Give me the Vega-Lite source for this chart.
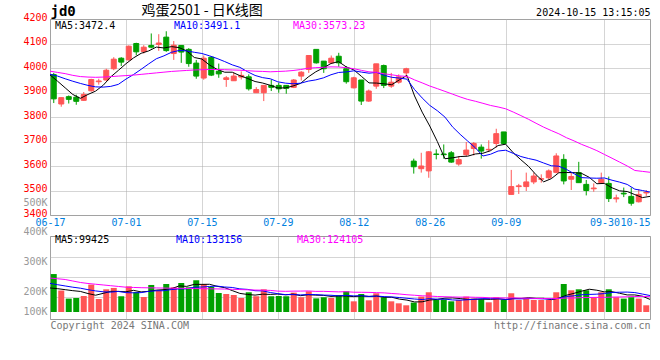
{
"$schema": "https://vega.github.io/schema/vega-lite/v6.json",
"background": "white",
"padding": {"left": 22, "top": 2, "right": 8, "bottom": 0},
"bounds": "flush",
"spacing": 21,
"datasets": {"k": [
{"d":"06-17","o":3973,"h":3980,"l":3857,"c":3874,"v":306000,"ma5":3972,"ma10":3974,"ma30":3987,"vma5":194000,"vma10":231000,"vma30":274000},
{"d":"06-18","o":3853,"h":3880,"l":3842,"c":3879,"v":173000,"ma5":3946,"ma10":3967,"ma30":3982,"vma5":188000,"vma10":220000,"vma30":268000},
{"d":"06-19","o":3883,"h":3888,"l":3855,"c":3872,"v":108000,"ma5":3919,"ma10":3956,"ma30":3977,"vma5":180000,"vma10":210000,"vma30":262000},
{"d":"06-20","o":3881,"h":3891,"l":3850,"c":3864,"v":113000,"ma5":3892,"ma10":3946,"ma30":3970,"vma5":172000,"vma10":200000,"vma30":250000},
{"d":"06-21","o":3868,"h":3902,"l":3866,"c":3892,"v":129000,"ma5":3876.2,"ma10":3937,"ma30":3965,"vma5":165800,"vma10":192000,"vma30":238000},
{"d":"06-24","o":3907,"h":3956,"l":3904,"c":3953,"v":221000,"ma5":3892,"ma10":3929,"ma30":3963,"vma5":148800,"vma10":180000,"vma30":230000},
{"d":"06-25","o":3944,"h":3956,"l":3932,"c":3947,"v":105000,"ma5":3905.6,"ma10":3923,"ma30":3962,"vma5":135200,"vma10":170000,"vma30":224000},
{"d":"06-26","o":3951,"h":3997,"l":3948,"c":3991,"v":183000,"ma5":3929.4,"ma10":3922,"ma30":3963,"vma5":150200,"vma10":163000,"vma30":218000},
{"d":"06-27","o":3997,"h":4044,"l":3991,"c":4036,"v":194000,"ma5":3963.8,"ma10":3925,"ma30":3965,"vma5":166400,"vma10":160000,"vma30":212000},
{"d":"06-28","o":4040,"h":4044,"l":4008,"c":4024,"v":127000,"ma5":3990.2,"ma10":3933.2,"ma30":3967,"vma5":166000,"vma10":165900,"vma30":206000},
{"d":"07-01","o":4033,"h":4092,"l":4031,"c":4089,"v":207000,"ma5":4017.4,"ma10":3954.7,"ma30":3969,"vma5":163200,"vma10":156000,"vma30":200000},
{"d":"07-02","o":4100,"h":4103,"l":4052,"c":4066,"v":161000,"ma5":4041.2,"ma10":3973.4,"ma30":3971,"vma5":174400,"vma10":154800,"vma30":198000},
{"d":"07-03","o":4067,"h":4093,"l":4059,"c":4085,"v":121000,"ma5":4060,"ma10":3994.7,"ma30":3974,"vma5":162000,"vma10":156100,"vma30":196000},
{"d":"07-04","o":4092,"h":4141,"l":4080,"c":4085,"v":218000,"ma5":4069.8,"ma10":4016.8,"ma30":3977,"vma5":166800,"vma10":166600,"vma30":195000},
{"d":"07-05","o":4096,"h":4138,"l":4070,"c":4102,"v":175000,"ma5":4085.4,"ma10":4037.8,"ma30":3980,"vma5":176400,"vma10":171200,"vma30":194000},
{"d":"07-08","o":4126,"h":4150,"l":4066,"c":4071,"v":226000,"ma5":4081.8,"ma10":4049.6,"ma30":3983,"vma5":180200,"vma10":171700,"vma30":193000},
{"d":"07-09","o":4059,"h":4110,"l":4033,"c":4093,"v":199000,"ma5":4087.2,"ma10":4064.2,"ma30":3986,"vma5":187800,"vma10":181100,"vma30":192000},
{"d":"07-10","o":4092,"h":4092,"l":4021,"c":4065,"v":234000,"ma5":4083.2,"ma10":4071.6,"ma30":3988,"vma5":210400,"vma10":186200,"vma30":191000},
{"d":"07-11","o":4076,"h":4081,"l":4005,"c":4018,"v":199000,"ma5":4069.8,"ma10":4069.8,"ma30":3990,"vma5":206600,"vma10":186700,"vma30":190000},
{"d":"07-12","o":4020,"h":4033,"l":3956,"c":3967,"v":256000,"ma5":4042.8,"ma10":4064.1,"ma30":3992,"vma5":222800,"vma10":199600,"vma30":189000},
{"d":"07-15","o":3959,"h":4051,"l":3952,"c":4040,"v":226000,"ma5":4036.6,"ma10":4059.2,"ma30":3993,"vma5":222800,"vma10":201500,"vma30":188000},
{"d":"07-16","o":4044,"h":4048,"l":3967,"c":3971,"v":202000,"ma5":4012.2,"ma10":4049.7,"ma30":3994,"vma5":223400,"vma10":205600,"vma30":187000},
{"d":"07-17","o":3987,"h":4018,"l":3960,"c":3976,"v":153000,"ma5":3994.4,"ma10":4038.8,"ma30":3994,"vma5":207200,"vma10":208800,"vma30":186000},
{"d":"07-18","o":3953,"h":3967,"l":3923,"c":3960,"v":145000,"ma5":3982.8,"ma10":4026.3,"ma30":3993,"vma5":196400,"vma10":201500,"vma30":185000},
{"d":"07-19","o":3948,"h":3982,"l":3948,"c":3967,"v":137000,"ma5":3982.8,"ma10":4012.8,"ma30":3992,"vma5":172600,"vma10":197700,"vma30":183000},
{"d":"07-22","o":3963,"h":3986,"l":3953,"c":3970,"v":113000,"ma5":3968.8,"ma10":4002.7,"ma30":3991,"vma5":150000,"vma10":186400,"vma30":181000},
{"d":"07-23","o":3964,"h":3974,"l":3908,"c":3915,"v":159000,"ma5":3957.6,"ma10":3984.9,"ma30":3989,"vma5":141400,"vma10":182400,"vma30":179000},
{"d":"07-24","o":3899,"h":3922,"l":3899,"c":3912,"v":127000,"ma5":3944.8,"ma10":3969.6,"ma30":3987,"vma5":136200,"vma10":171700,"vma30":177000},
{"d":"07-25","o":3899,"h":3929,"l":3865,"c":3929,"v":183000,"ma5":3938.6,"ma10":3960.7,"ma30":3986,"vma5":143800,"vma10":170100,"vma30":176000},
{"d":"07-26","o":3929,"h":3953,"l":3906,"c":3921,"v":127000,"ma5":3929.4,"ma10":3956.1,"ma30":3984.5,"vma5":141800,"vma10":157200,"vma30":174200},
{"d":"07-29","o":3929,"h":3940,"l":3899,"c":3915,"v":129000,"ma5":3918.4,"ma10":3943.6,"ma30":3985.8,"vma5":145000,"vma10":147500,"vma30":168300},
{"d":"07-30","o":3929,"h":3929,"l":3895,"c":3917,"v":127000,"ma5":3918.8,"ma10":3938.2,"ma30":3987.1,"vma5":138600,"vma10":140000,"vma30":166800},
{"d":"07-31","o":3921,"h":3955,"l":3918,"c":3951,"v":156000,"ma5":3926.6,"ma10":3935.7,"ma30":3989.7,"vma5":144400,"vma10":140300,"vma30":168400},
{"d":"08-01","o":3967,"h":3987,"l":3949,"c":3983,"v":119000,"ma5":3937.4,"ma10":3938,"ma30":3993.7,"vma5":131600,"vma10":137700,"vma30":168600},
{"d":"08-02","o":3994,"h":4051,"l":3980,"c":4051,"v":167000,"ma5":3963.4,"ma10":3946.4,"ma30":3999,"vma5":139600,"vma10":140700,"vma30":169900},
{"d":"08-05","o":4076,"h":4076,"l":4018,"c":4021,"v":110000,"ma5":3984.6,"ma10":3951.5,"ma30":4001.3,"vma5":135800,"vma10":140400,"vma30":166200},
{"d":"08-06","o":4028,"h":4028,"l":3980,"c":3997,"v":119000,"ma5":4000.6,"ma10":3959.7,"ma30":4002.9,"vma5":134200,"vma10":136400,"vma30":166600},
{"d":"08-07","o":4021,"h":4051,"l":4017,"c":4040,"v":113000,"ma5":4018.4,"ma10":3972.5,"ma30":4004.6,"vma5":125600,"vma10":135000,"vma30":164300},
{"d":"08-08","o":4048,"h":4062,"l":4005,"c":4021,"v":135000,"ma5":4026,"ma10":3981.7,"ma30":4004.1,"vma5":128800,"vma10":130200,"vma30":162300},
{"d":"08-09","o":3997,"h":4008,"l":3936,"c":3944,"v":167000,"ma5":4004.6,"ma10":3984,"ma30":4001.4,"vma5":128800,"vma10":134200,"vma30":163700},
{"d":"08-12","o":3919,"h":3964,"l":3917,"c":3960,"v":86000,"ma5":3992.4,"ma10":3988.5,"ma30":3997.1,"vma5":124000,"vma10":129900,"vma30":159600},
{"d":"08-13","o":3951,"h":3951,"l":3849,"c":3865,"v":145000,"ma5":3966,"ma10":3983.3,"ma30":3990.4,"vma5":129200,"vma10":131700,"vma30":159100},
{"d":"08-14","o":3865,"h":3912,"l":3862,"c":3906,"v":94000,"ma5":3939.2,"ma10":3978.8,"ma30":3984.4,"vma5":125400,"vma10":125500,"vma30":158200},
{"d":"08-15","o":3926,"h":4017,"l":3915,"c":4017,"v":151000,"ma5":3938.4,"ma10":3982.2,"ma30":3982.2,"vma5":128600,"vma10":128700,"vma30":156000},
{"d":"08-16","o":4010,"h":4014,"l":3918,"c":3929,"v":119000,"ma5":3935.4,"ma10":3970,"ma30":3976.4,"vma5":119000,"vma10":123900,"vma30":154100},
{"d":"08-19","o":3926,"h":3980,"l":3919,"c":3942,"v":86000,"ma5":3931.8,"ma10":3962.1,"ma30":3972.1,"vma5":119000,"vma10":121500,"vma30":149400},
{"d":"08-20","o":3942,"h":3974,"l":3936,"c":3964,"v":70000,"ma5":3951.6,"ma10":3958.8,"ma30":3967.8,"vma5":104000,"vma10":116600,"vma30":145100},
{"d":"08-21","o":3980,"h":4001,"l":3960,"c":3997,"v":54000,"ma5":3969.8,"ma10":3954.5,"ma30":3965.5,"vma5":96000,"vma10":110700,"vma30":139100},
{"d":"08-22","o":3620,"h":3630,"l":3569,"c":3597,"v":76000,"ma5":3885.8,"ma10":3912.1,"ma30":3951.5,"vma5":81000,"vma10":104800,"vma30":135000},
{"d":"08-23","o":3589,"h":3654,"l":3573,"c":3600,"v":124000,"ma5":3820,"ma10":3877.7,"ma30":3939.3,"vma5":82000,"vma10":100500,"vma30":130600},
{"d":"08-26","o":3580,"h":3661,"l":3552,"c":3658,"v":159000,"ma5":3763.2,"ma10":3847.5,"ma30":3926.5,"vma5":96600,"vma10":107800,"vma30":128400},
{"d":"08-27","o":3649,"h":3668,"l":3627,"c":3647,"v":97000,"ma5":3699.8,"ma10":3825.7,"ma30":3915.7,"vma5":102000,"vma10":103000,"vma30":124900},
{"d":"08-28","o":3649,"h":3688,"l":3630,"c":3646,"v":102000,"ma5":3629.6,"ma10":3799.7,"ma30":3904.7,"vma5":111600,"vma10":103800,"vma30":123200},
{"d":"08-29","o":3654,"h":3661,"l":3613,"c":3616,"v":86000,"ma5":3633.4,"ma10":3759.6,"ma30":3893.3,"vma5":113600,"vma10":97300,"vma30":121200},
{"d":"08-30","o":3608,"h":3640,"l":3601,"c":3626,"v":97000,"ma5":3638.6,"ma10":3729.3,"ma30":3881.9,"vma5":108200,"vma10":95100,"vma30":119900},
{"d":"09-02","o":3646,"h":3698,"l":3640,"c":3665,"v":124000,"ma5":3640,"ma10":3701.6,"ma30":3871.7,"vma5":101200,"vma10":98900,"vma30":120300},
{"d":"09-03","o":3671,"h":3698,"l":3643,"c":3692,"v":108000,"ma5":3649,"ma10":3674.4,"ma30":3864.3,"vma5":103400,"vma10":102700,"vma30":118600},
{"d":"09-04","o":3677,"h":3688,"l":3630,"c":3661,"v":102000,"ma5":3652,"ma10":3640.8,"ma30":3855.9,"vma5":103400,"vma10":107500,"vma30":117700},
{"d":"09-05","o":3666,"h":3705,"l":3657,"c":3668,"v":78000,"ma5":3662.4,"ma10":3647.9,"ma30":3847.2,"vma5":101800,"vma10":107700,"vma30":114200},
{"d":"09-06","o":3692,"h":3752,"l":3675,"c":3732,"v":119000,"ma5":3683.6,"ma10":3661.1,"ma30":3840.9,"vma5":106200,"vma10":107200,"vma30":114000},
{"d":"09-09","o":3739,"h":3739,"l":3688,"c":3692,"v":97000,"ma5":3689,"ma10":3664.5,"ma30":3833.5,"vma5":100800,"vma10":101000,"vma30":112900},
{"d":"09-10","o":3484,"h":3584,"l":3484,"c":3516,"v":151000,"ma5":3653.8,"ma10":3651.4,"ma30":3820.1,"vma5":109400,"vma10":106400,"vma30":113700},
{"d":"09-11","o":3516,"h":3527,"l":3486,"c":3519,"v":97000,"ma5":3625.4,"ma10":3638.7,"ma30":3805.7,"vma5":108400,"vma10":105900,"vma30":111700},
{"d":"09-12","o":3516,"h":3573,"l":3498,"c":3535,"v":110000,"ma5":3598.8,"ma10":3630.6,"ma30":3790.8,"vma5":114800,"vma10":108300,"vma30":111400},
{"d":"09-13","o":3535,"h":3573,"l":3526,"c":3559,"v":97000,"ma5":3564.2,"ma10":3623.9,"ma30":3774.4,"vma5":110400,"vma10":108300,"vma30":109100},
{"d":"09-18","o":3546,"h":3566,"l":3532,"c":3548,"v":97000,"ma5":3535.4,"ma10":3612.2,"ma30":3758.6,"vma5":110400,"vma10":105600,"vma30":108700},
{"d":"09-19","o":3552,"h":3586,"l":3546,"c":3580,"v":97000,"ma5":3548.2,"ma10":3601,"ma30":3744.7,"vma5":99600,"vma10":104500,"vma30":107900},
{"d":"09-20","o":3574,"h":3652,"l":3570,"c":3641,"v":159000,"ma5":3572.6,"ma10":3599,"ma30":3731.4,"vma5":112000,"vma10":110200,"vma30":109500},
{"d":"09-23","o":3627,"h":3648,"l":3525,"c":3539,"v":226000,"ma5":3573.4,"ma10":3586.1,"ma30":3715.4,"vma5":135200,"vma10":125000,"vma30":112500},
{"d":"09-24","o":3546,"h":3573,"l":3502,"c":3557,"v":175000,"ma5":3573,"ma10":3568.6,"ma30":3702.5,"vma5":150800,"vma10":130600,"vma30":112800},
{"d":"09-25","o":3573,"h":3617,"l":3532,"c":3532,"v":183000,"ma5":3569.8,"ma10":3552.6,"ma30":3688.2,"vma5":168000,"vma10":139200,"vma30":116000},
{"d":"09-26","o":3525,"h":3543,"l":3480,"c":3500,"v":175000,"ma5":3553.8,"ma10":3551,"ma30":3676,"vma5":183600,"vma10":141600,"vma30":117000},
{"d":"09-27","o":3507,"h":3529,"l":3495,"c":3510,"v":119000,"ma5":3527.6,"ma10":3550.1,"ma30":3662.8,"vma5":175600,"vma10":143800,"vma30":117800},
{"d":"09-30","o":3532,"h":3573,"l":3532,"c":3546,"v":159000,"ma5":3529,"ma10":3551.2,"ma30":3647.1,"vma5":162200,"vma10":148700,"vma30":118100},
{"d":"10-08","o":3529,"h":3557,"l":3453,"c":3467,"v":183000,"ma5":3511,"ma10":3542,"ma30":3631.7,"vma5":163800,"vma10":157300,"vma30":120200},
{"d":"10-09","o":3466,"h":3483,"l":3451,"c":3470,"v":119000,"ma5":3498.6,"ma10":3534.2,"ma30":3616,"vma5":151000,"vma10":159500,"vma30":121300},
{"d":"10-10","o":3489,"h":3512,"l":3473,"c":3486,"v":108000,"ma5":3495.8,"ma10":3524.8,"ma30":3600.1,"vma5":137600,"vma10":160600,"vma30":122600},
{"d":"10-11","o":3476,"h":3512,"l":3438,"c":3448,"v":119000,"ma5":3483.4,"ma10":3505.5,"ma30":3581.8,"vma5":137600,"vma10":156600,"vma30":124800},
{"d":"10-14","o":3454,"h":3505,"l":3451,"c":3484,"v":108000,"ma5":3471,"ma10":3500,"ma30":3578,"vma5":127400,"vma10":144800,"vma30":125800},
{"d":"10-15","o":3490,"h":3502,"l":3478,"c":3492,"v":54000,"ma5":3476,"ma10":3493.5,"ma30":3574.4,"vma5":101600,"vma10":132700,"vma30":123500}
]},
"resolve": {"scale": {"color": "independent"}, "legend": {"color": "independent"}},
"vconcat": [
{
 "width": 600, "height": 196,
 "data": {"name": "k"},
 "layer": [
  {
   "mark": {"type": "rule", "strokeWidth": 1},
   "encoding": {
    "x": {"field": "d", "type": "ordinal", "scale": {"type": "band", "paddingInner": 0, "paddingOuter": 0},
          "axis": {"orient": "top", "labels": false, "ticks": false, "domain": false, "grid": false,
                   "title": "鸡蛋2501 - 日K线图", "titleX": 91, "titleY": -9, "titleAlign": "left", "titleBaseline": "middle",
                   "titleFont": "Noto Sans CJK SC", "titleFontSize": 14, "titleFontWeight": "normal", "titleColor": "#000000"}},
    "y": {"field": "l", "type": "quantitative", "scale": {"domain": [3400, 4200], "nice": false, "zero": false},
          "axis": {"orient": "left", "values": [3400, 3500, 3600, 3700, 3800, 3900, 4000, 4100, 4200], "format": "d",
                   "labelColor": "#ff0000", "labelPadding": 3, "labelOffset": -2, "grid": true,
                   "title": "jd0", "titleAngle": 0, "titleX": 0, "titleY": -8, "titleAlign": "left", "titleBaseline": "middle",
                   "titleFontSize": 14, "titleFontWeight": "bold", "titleColor": "#000000"}},
    "y2": {"field": "h"},
    "color": {"condition": {"test": "datum.c >= datum.o", "value": "#ff5555"}, "value": "#00a000"}
   }
  },
  {
   "mark": {"type": "bar", "size": 5, "strokeWidth": 1},
   "encoding": {
    "x": {"field": "d", "type": "ordinal", "scale": {"type": "band", "paddingInner": 0, "paddingOuter": 0}, "axis": null},
    "y": {"field": "o", "type": "quantitative", "scale": {"domain": [3400, 4200], "nice": false, "zero": false}, "axis": null},
    "y2": {"field": "c"},
    "fill": {"condition": {"test": "datum.c >= datum.o", "value": "#ff5555"}, "value": "#00a000"},
    "stroke": {"condition": {"test": "datum.c >= datum.o", "value": "#ff5555"}, "value": "#00a000"}
   }
  },
  {
   "transform": [{"fold": ["ma5", "ma10", "ma30"], "as": ["s", "val"]}],
   "mark": {"type": "line", "strokeWidth": 1},
   "encoding": {
    "x": {"field": "d", "type": "ordinal", "scale": {"type": "point", "padding": 0},
          "axis": {"orient": "bottom", "values": ["06-17", "07-01", "07-15", "07-29", "08-12", "08-26", "09-09", "09-30", "10-15"],
                   "grid": true, "labelColor": "#0080e0", "labelAngle": 0, "labelPadding": 2, "labelOverlap": false, "labelBound": false,
                   "labelAlign": {"condition": {"test": "datum.value == '10-15'", "value": "right"}, "value": "center"},
                   "title": null}},
    "y": {"field": "val", "type": "quantitative", "scale": {"domain": [3400, 4200], "nice": false, "zero": false},
          "axis": {"orient": "right", "labels": false, "grid": false,
                   "title": "2024-10-15 13:15:05", "titleAngle": 0, "titleX": 0, "titleY": -6.5, "titleAlign": "right", "titleBaseline": "middle",
                   "titleColor": "#000000"}},
    "color": {"field": "s", "type": "nominal",
              "scale": {"domain": ["ma5", "ma10", "ma30"], "range": ["#000000", "#0000ff", "#ff00ff"]},
              "legend": {"orient": "none", "legendX": -5, "legendY": 1.5, "direction": "horizontal", "title": null,
                         "symbolSize": 0, "symbolStrokeWidth": 0, "symbolOpacity": 0, "labelOffset": 0, "padding": 0,
                         "gridAlign": "all", "columnPadding": 36, "labelLimit": 200,
                         "labelExpr": "datum.value == 'ma5' ? 'MA5:3472.4' : datum.value == 'ma10' ? 'MA10:3491.1' : 'MA30:3573.23'",
                         "labelColor": {"expr": "datum.value == 'ma5' ? '#000000' : datum.value == 'ma10' ? '#0000ff' : '#ff00ff'"}}}
   }
  }
 ],
 "resolve": {"scale": {"x": "independent"}, "axis": {"y": "independent"}}
},
{
 "width": 600, "height": 83,
 "data": {"name": "k"},
 "layer": [
  {
   "mark": {"type": "bar", "size": 6},
   "encoding": {
    "x": {"field": "d", "type": "ordinal", "scale": {"type": "band", "paddingInner": 0, "paddingOuter": 0},
          "axis": {"orient": "bottom", "labels": false, "ticks": false, "domain": false, "grid": false,
                   "title": "http://finance.sina.com.cn", "titleAnchor": "end", "titleAlign": "right", "titleColor": "#777777", "titlePadding": 1}},
    "y": {"field": "v", "type": "quantitative", "scale": {"domain": [-56500, 612900], "nice": false, "zero": false},
          "axis": {"orient": "left", "values": [124000, 285000, 447000], "labels": false, "grid": true, "title": null}},
    "color": {"condition": {"test": "datum.c >= datum.o", "value": "#ff5555"}, "value": "#00a000"}
   }
  },
  {
   "transform": [{"fold": ["vma5", "vma10", "vma30"], "as": ["s", "val"]}],
   "mark": {"type": "line", "strokeWidth": 1},
   "encoding": {
    "x": {"field": "d", "type": "ordinal", "scale": {"type": "point", "padding": 0},
          "axis": {"orient": "bottom", "values": ["06-17", "07-01", "07-15", "07-29", "08-12", "08-26", "09-09", "09-30", "10-15"],
                   "labels": false, "grid": true,
                   "title": "Copyright 2024 SINA.COM", "titleAnchor": "start", "titleAlign": "left", "titleColor": "#777777", "titlePadding": 1}},
    "y": {"field": "val", "type": "quantitative", "scale": {"domain": [-56500, 612900], "nice": false, "zero": false}, "axis": null},
    "color": {"field": "s", "type": "nominal",
              "scale": {"domain": ["vma5", "vma10", "vma30"], "range": ["#000000", "#0000ff", "#ff00ff"]},
              "legend": {"orient": "none", "legendX": -5, "legendY": -1.5, "direction": "horizontal", "title": null,
                         "symbolSize": 0, "symbolStrokeWidth": 0, "symbolOpacity": 0, "labelOffset": 0, "padding": 0,
                         "gridAlign": "all", "columnPadding": 44, "labelLimit": 200,
                         "labelExpr": "datum.value == 'vma5' ? 'MA5:99425' : datum.value == 'vma10' ? 'MA10:133156' : 'MA30:124105'",
                         "labelColor": {"expr": "datum.value == 'vma5' ? '#000000' : datum.value == 'vma10' ? '#0000ff' : '#ff00ff'"}}}
   }
  },
  {
   "mark": {"type": "point", "opacity": 0},
   "encoding": {
    "x": {"field": "d", "type": "ordinal", "scale": {"type": "point", "padding": 0}, "axis": null},
    "y": {"field": "v", "type": "quantitative",
          "scale": {"type": "linear", "domain": [100000, 200000, 500000], "range": [75.3, 55.6, -34], "nice": false, "zero": false},
          "axis": {"orient": "left", "values": [100000, 200000, 300000, 400000, 500000],
                   "labelExpr": "format(datum.value / 1000, 'd') + 'K'", "labelColor": "#999999", "labelPadding": 3,
                   "grid": false, "title": null}}
   }
  }
 ],
 "resolve": {"scale": {"x": "independent", "y": "independent"}}
}
],
"config": {
 "font": "DejaVu Sans Mono",
 "view": {"stroke": "#999999", "strokeWidth": 1},
 "axis": {"domain": false, "ticks": false, "labelFont": "DejaVu Sans Mono", "labelFontSize": 10,
          "titleFont": "DejaVu Sans Mono", "titleFontSize": 10, "titleFontWeight": "normal",
          "gridColor": "#aaaaaa", "gridDash": [1, 1], "gridOpacity": 1},
 "legend": {"labelFont": "DejaVu Sans Mono", "labelFontSize": 10}
}
}
